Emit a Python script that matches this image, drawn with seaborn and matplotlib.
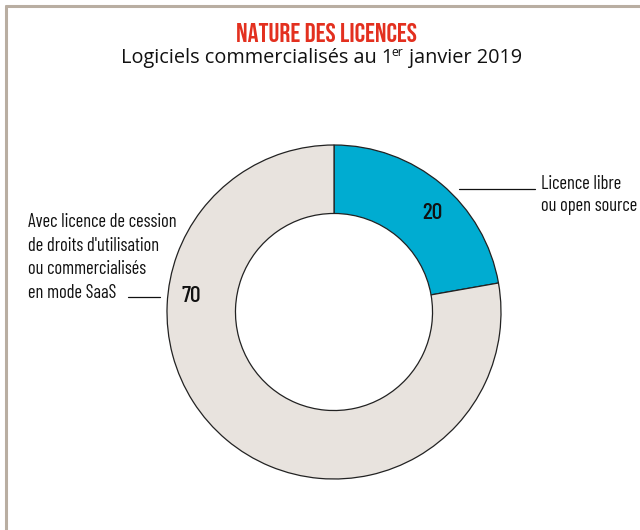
import matplotlib
matplotlib.use("Agg")
import matplotlib.pyplot as plt
import matplotlib.font_manager as fm
import seaborn as sns
from matplotlib.lines import Line2D

title = "NATURE DES LICENCES"
subtitle_parts = ["Logiciels commercialisés au 1", "er", " janvier 2019"]
categories = ["Licence libre\nou open source",
              "Avec licence de cession\nde droits d'utilisation\nou commercialisés\nen mode SaaS"]
values = [20, 70]
colors = ["#00acd1", "#e8e3de"]

sns.set_theme(style="white")
plt.rcParams['font.family'] = ['DejaVu Sans']

available = {f.name for f in fm.fontManager.ttflist}


def pick(families, weight):
    for fam in families:
        if fam not in available:
            continue
        try:
            path = fm.findfont(fm.FontProperties(family=fam, weight=weight, style='normal'),
                               fallback_to_default=False)
            return fm.FontProperties(fname=path)
        except Exception:
            pass
    return fm.FontProperties(family='DejaVu Sans', weight=weight)


fp_reg = pick(['Barlow Condensed', 'Roboto Condensed', 'Pathway Gothic One',
               'Sofia Sans Extra Condensed', 'Special Gothic Condensed One'], 'normal')
fp_num = pick(['Barlow Condensed', 'Roboto Condensed', 'Pathway Gothic One',
               'Sofia Sans Extra Condensed'], 'medium')
fp_bold = pick(['Bebas Neue', 'Barlow Condensed', 'Roboto Condensed', 'Oswald'], 'bold')
fp_sub = fm.FontProperties(family=['Open Sans', 'DejaVu Sans'])

fig = plt.figure(figsize=(6.4, 5.3), dpi=100)
renderer = fig.canvas.get_renderer()
W, H = 640, 530


def px(x, y):
    return (x / W, 1 - y / H)


def width_at(text, fp, size):
    t = fig.text(0, 0, text, fontproperties=fp, fontsize=size)
    w = t.get_window_extent(renderer).width
    t.remove()
    return w


def fit_size(text, fp, target_w, max_size, base=10.0):
    return min(base * target_w / width_at(text, fp, base), max_size)


cx, cy, r = 334, 312, 167
ax = fig.add_axes([(cx - r) / W, (H - cy - r) / H, 2 * r / W, 2 * r / H])
wedges, _ = ax.pie(values, colors=colors, startangle=90, counterclock=False,
                   radius=1.0,
                   wedgeprops=dict(width=0.41, edgecolor="#222222", linewidth=0.9))
ax.set_xlim(-1, 1)
ax.set_ylim(-1, 1)
ax.set_aspect('equal')
ax.axis('off')

# frame
fig.add_artist(Line2D([6 / W, 6 / W], [0, 1 - 6 / H], color="#b9aea2", lw=2.2, transform=fig.transFigure))
fig.add_artist(Line2D([6 / W, 1], [1 - 6 / H, 1 - 6 / H], color="#b9aea2", lw=2.2, transform=fig.transFigure))

# title
ts = fit_size(title, fp_bold, 182, 21.5)
fig.text(*px(326, 42), title, ha="center", va="baseline",
         color="#e3301f", fontsize=ts, fontproperties=fp_bold)

# subtitle with superscript
base = 13.0
sup_ratio = 0.62
w1 = width_at(subtitle_parts[0], fp_sub, base)
w2 = width_at(subtitle_parts[1], fp_sub, base * sup_ratio)
w3 = width_at(subtitle_parts[2], fp_sub, base)
k = min(407 / (w1 + w2 + w3), 1.1)
ss = base * k
x0 = 121
fig.text(*px(x0, 63), subtitle_parts[0], ha="left", va="baseline", fontproperties=fp_sub,
         fontsize=ss, color="#111111")
fig.text(*px(x0 + w1 * k + 0.5, 56), subtitle_parts[1], ha="left", va="baseline", fontproperties=fp_sub,
         fontsize=ss * sup_ratio, color="#111111")
fig.text(*px(x0 + (w1 + w2) * k + 0.5, 63), subtitle_parts[2], ha="left", va="baseline", fontproperties=fp_sub,
         fontsize=ss, color="#111111")

# value labels (data coords of the pie)
ax.text(0.587, 0.593, str(values[0]), ha="center", va="center", fontproperties=fp_num,
        fontsize=17, color="#111111")
ax.text(-0.856, 0.096, str(values[1]), ha="center", va="center", fontproperties=fp_num,
        fontsize=17, color="#111111")

# leader lines
fig.add_artist(Line2D([459 / W, 535 / W], [1 - 189 / H] * 2, color="#111111", lw=0.9, transform=fig.transFigure))
fig.add_artist(Line2D([128 / W, 160 / W], [1 - 297 / H] * 2, color="#111111", lw=0.9, transform=fig.transFigure))

left_lines = categories[1].split("\n")
right_lines = categories[0].split("\n")
ls_left = fit_size(left_lines[0], fp_reg, 150, 15)
ls_right_max = fit_size(right_lines[1], fp_reg, 97, 15)
lab_size = min(ls_left, ls_right_max)

for i, line in enumerate(right_lines):
    fig.text(*px(541, 189 + 22 * i), line, ha="left", va="baseline", fontproperties=fp_reg,
             fontsize=lab_size, color="#111111")
for i, line in enumerate(left_lines):
    fig.text(*px(28, 227 + 23.6 * i), line, ha="left", va="baseline", fontproperties=fp_reg,
             fontsize=lab_size, color="#111111")

fig.savefig("out.png", dpi=100)
